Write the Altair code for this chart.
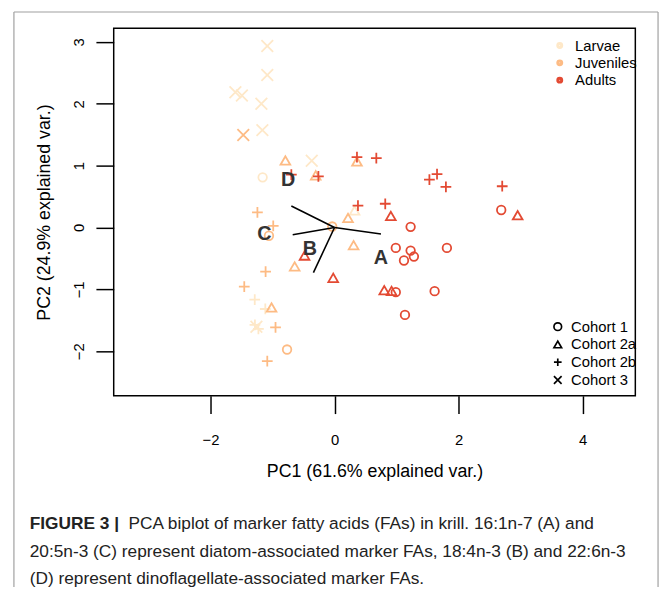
import altair as alt
import pandas as pd

# ---------------- data ----------------
stage = (["Larvae"] * 14 + ["Juveniles"] * 17 + ["Adults"] * 26)
cohort = (["Cohort 3"] * 8 + ["Cohort 1"] + ["Cohort 2a"] + ["Cohort 2b"] * 4
          + ["Cohort 3"] + ["Cohort 1"] * 3 + ["Cohort 2a"] * 7 + ["Cohort 2b"] * 6
          + ["Cohort 1"] * 10 + ["Cohort 2a"] * 6 + ["Cohort 2b"] * 10)
pc1 = [-1.084, -1.084, -1.598, -1.493, -1.179, -1.163, -0.367, -1.259,
       -1.159,
       0.324,
       -1.286, -1.116, -1.283, -1.227,
       -1.471,
       -1.057, -0.037, -0.765,
       -0.792, -0.303, 0.362, 0.218, 0.308, -0.642, -1.015,
       -1.243, -0.988, -1.111, -1.455, -0.951, -1.084,
       2.688, 1.227, 0.988, 1.227, 1.280, 1.120, 1.812, 0.988, 1.614, 1.136,
       0.908, 2.953, -0.483, -0.021, 0.802, 0.920,
       -0.696, -0.260, 0.362, 0.674, 0.378, 0.818, 1.530, 1.653, 1.796, 2.704]
pc2 = [2.934, 2.464, 2.187, 2.134, 2.000, 1.574, 1.078, -1.605,
       0.811,
       0.275,
       -1.165, -1.317, -1.573, -1.637,
       1.494,
       -0.133, 0.016, -1.972,
       1.083, 0.843, 1.067, 0.155, -0.285, -0.629, -1.293,
       0.246, 0.027, -0.714, -0.957, -1.613, -2.160,
       0.283, 0.011, -0.330, -0.373, -0.469, -0.533, -0.330, -1.045, -1.029, -1.413,
       0.187, 0.198, -0.453, -0.813, -1.013, -1.024,
       0.854, 0.827, 1.136, 1.120, 0.355, 0.384, 0.774, 0.864, 0.656, 0.667]

stages = ["Larvae", "Juveniles", "Adults"]
stage_colors = ["#fee8c8", "#fdbb84", "#e34a33"]
cohorts = ["Cohort 1", "Cohort 2a", "Cohort 2b", "Cohort 3"]

# loading vectors (fatty acid markers)
load_names = ["A", "B", "C", "D"]
load_x = [0.749, -0.340, -0.674, -0.696]
load_y = [-0.106, -0.730, -0.117, 0.347]
label_x = [0.749, -0.398, -1.131, -0.749]
label_y = [-0.498, -0.356, -0.100, 0.760]

x_ticks = [-2, 0, 2, 4]
y_ticks = [-2, -1, 0, 1, 2, 3]

caption_bold = "FIGURE 3 |"
caption_lines = [
    "PCA biplot of marker fatty acids (FAs) in krill. 16:1n-7 (A) and",
    "20:5n-3 (C) represent diatom-associated marker FAs, 18:4n-3 (B) and 22:6n-3",
    "(D) represent dinoflagellate-associated marker FAs.",
]

# ---------------- tables ----------------
pts = pd.DataFrame({"PC1": pc1, "PC2": pc2, "Stage": stage, "Cohort": cohort,
                    "SizeKey": cohort})
loads = pd.DataFrame({"name": load_names, "x0": [0.0] * 4, "y0": [0.0] * 4,
                      "x": load_x, "y": load_y, "lx": label_x, "ly": label_y})

W, H = 528, 372
FONT = "Liberation Sans, Arial, Helvetica, sans-serif"
CAPFONT = "Liberation Sans, Arial, sans-serif"

xscale = alt.Scale(domain=[-3.56, 4.85], nice=False, zero=False)
yscale = alt.Scale(domain=[-2.72, 3.22], nice=False, zero=False)

plus_path = "M-1,0L1,0M0,-1L0,1"
x_path = "M-1,-1L1,1M-1,1L1,-1"

points = alt.Chart(pts).mark_point(filled=False, strokeWidth=1.8, opacity=1).encode(
    x=alt.X("PC1:Q", scale=xscale,
            axis=alt.Axis(values=x_ticks, format="d", title="PC1 (61.6% explained var.)",
                          grid=False, domain=False, ticks=True, tickSize=18, tickWidth=1.5,
                          tickColor="black", labelFontSize=15, labelColor="black",
                          labelFont=FONT, labelPadding=19, titleFont=FONT,
                          titleFontSize=18, titleFontWeight="normal", titleColor="black",
                          titleY=77, titleBaseline="middle")),
    y=alt.Y("PC2:Q", scale=yscale,
            axis=alt.Axis(values=y_ticks, format="d", title="PC2 (24.9% explained var.)",
                          grid=False, domain=False, ticks=True, tickSize=18, tickWidth=1.5,
                          tickColor="black", labelFontSize=15, labelColor="black",
                          labelFont=FONT, labelAngle=270, labelAlign="center",
                          labelBaseline="middle", labelPadding=18, titleFont=FONT,
                          titleFontSize=18, titleFontWeight="normal", titleColor="black",
                          titleX=-70, titleY=186, titleBaseline="middle")),
    color=alt.Color("Stage:N", scale=alt.Scale(domain=stages, range=stage_colors),
                    legend=alt.Legend(title=None, orient="none", legendX=444, legendY=10,
                                      symbolType="circle", symbolSize=9,
                                      symbolStrokeWidth=4, labelFontSize=15,
                                      labelFont=FONT, labelColor="black",
                                      labelOffset=8, rowPadding=-1.5, padding=0)),
    shape=alt.Shape("Cohort:N",
                    scale=alt.Scale(domain=cohorts,
                                    range=["circle", "triangle-up", plus_path, x_path]),
                    legend=alt.Legend(title=None, orient="none", legendX=442, legendY=294.5,
                                      symbolSize=60, symbolStrokeColor="black",
                                      symbolStrokeWidth=1.7, labelFontSize=15,
                                      labelFont=FONT, labelColor="black",
                                      labelOffset=6, rowPadding=2, padding=0)),
    size=alt.Size("SizeKey:N", scale=alt.Scale(range=[75, 140, 169, 100]),
                  legend=None),
)

arrows = alt.Chart(loads).mark_rule(color="black", strokeWidth=1.6).encode(
    x=alt.X("x0:Q", scale=xscale), y=alt.Y("y0:Q", scale=yscale),
    x2="x:Q", y2="y:Q")

labels = alt.Chart(loads).mark_text(font=FONT, fontSize=20, fontWeight="bold",
                                    color="#333333").encode(
    x=alt.X("lx:Q", scale=xscale), y=alt.Y("ly:Q", scale=yscale), text="name:N")

# outer figure frame (decoration)
frame_df = pd.DataFrame({"k": [0]})
frame_left = alt.Chart(frame_df).mark_rule(color="#a0a0a0", strokeWidth=1.2).encode(
    x=alt.value(-101), y=alt.value(-16.5), y2=alt.value(700))
frame_right = alt.Chart(frame_df).mark_rule(color="#a0a0a0", strokeWidth=1.2).encode(
    x=alt.value(551), y=alt.value(-16.5), y2=alt.value(700))
frame_top = alt.Chart(frame_df).mark_rule(color="#a0a0a0", strokeWidth=1.2).encode(
    x=alt.value(-101), x2=alt.value(551), y=alt.value(-16.5))

cap_bold = alt.Chart(pd.DataFrame({"t": [caption_bold]})).mark_text(
    font=CAPFONT, fontSize=17.5, fontWeight="bold", align="left", baseline="middle",
    color="#222222").encode(x=alt.value(-85), y=alt.value(502), text="t:N")

cap_df = pd.DataFrame({"t": caption_lines, "row": [0, 1, 2],
                       "px": [15, -85, -85], "py": [502, 530, 557]})
cap_text = alt.Chart(cap_df).mark_text(
    font=CAPFONT, fontSize=17.5, align="left", baseline="middle", color="#222222").encode(
    x=alt.X("px:Q", scale=None), y=alt.Y("py:Q", scale=None), text="t:N")

chart = alt.layer(points, arrows, labels, frame_left, frame_right, frame_top,
                  cap_bold, cap_text).resolve_scale(
    x="shared", y="shared").properties(
    width=W, height=H,
    autosize=alt.AutoSizeParams(type="none"),
    padding={"left": 107, "top": 17, "right": 27, "bottom": 190},
).configure_view(stroke="black", strokeWidth=1.5).configure_axis(
    ticks=True, tickSize=18, tickColor="black", tickWidth=1.5
)

chart.save("out.html", embed_options={"renderer": "svg", "actions": False})
